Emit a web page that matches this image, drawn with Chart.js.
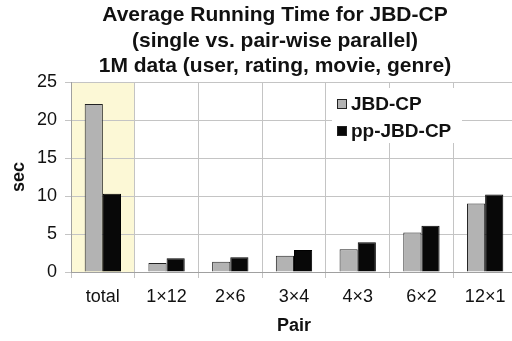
<!DOCTYPE html>
<html>
<head>
<meta charset="utf-8">
<script src="https://cdn.jsdelivr.net/npm/chart.js@4/dist/chart.umd.min.js"></script>
<style>
  html, body { margin: 0; padding: 0; background: #fff; overflow: hidden; }
  #wrap { position: relative; width: 520px; height: 341px; }
</style>
</head>
<body>
<div id="wrap"><canvas id="c"></canvas></div>
<script>
// --- datos ---
const pairs = ['total', '1×12', '2×6', '3×4', '4×3', '6×2', '12×1'];
const jbdCp = [22.1, 1.2, 1.35, 2.15, 3.0, 5.2, 9.0];
const ppJbdCp = [10.3, 1.8, 1.95, 2.9, 3.9, 6.1, 10.2];
const yTicks = [0, 5, 10, 15, 20, 25];
const titleLines = [
  'Average Running Time for JBD-CP',
  '(single vs. pair-wise parallel)',
  '1M data (user, rating, movie, genre)',
];

const FONT = '"Liberation Sans", Arial, Helvetica, sans-serif';

// fondo amarillo detrás de la categoría "total"
const highlight = {
  id: 'highlight',
  beforeDraw(chart) {
    const { ctx, chartArea: a, scales: { x } } = chart;
    const half = (x.getPixelForValue(1) - x.getPixelForValue(0)) / 2;
    const cx = x.getPixelForValue(0);
    ctx.save();
    ctx.fillStyle = '#fcf8d6';
    ctx.fillRect(cx - half, a.top, half * 2, a.bottom - a.top);
    ctx.restore();
  },
};

// título de tres líneas
const titlePlugin = {
  id: 'titleLines',
  afterDraw(chart) {
    const { ctx } = chart;
    ctx.save();
    ctx.fillStyle = '#111';
    ctx.font = `bold 21px ${FONT}`;
    ctx.textAlign = 'center';
    ctx.textBaseline = 'alphabetic';
    titleLines.forEach((t, i) => ctx.fillText(t, 275, 21 + i * 25.5));
    ctx.restore();
  },
};

// leyenda flotante dentro del área del gráfico
const floatLegend = {
  id: 'floatLegend',
  afterDatasetsDraw(chart) {
    const { ctx } = chart;
    ctx.save();
    ctx.fillStyle = '#fff';
    ctx.fillRect(332, 88, 130, 55);
    ctx.font = `bold 19px ${FONT}`;
    ctx.textBaseline = 'middle';
    ctx.textAlign = 'left';
    chart.data.datasets.forEach((ds, i) => {
      const y = 104 + i * 27;
      ctx.fillStyle = ds.backgroundColor;
      ctx.fillRect(337.5, y - 4.5, 9, 9);
      ctx.strokeStyle = '#222';
      ctx.lineWidth = 1;
      ctx.strokeRect(337.5, y - 4.5, 9, 9);
      ctx.fillStyle = '#111';
      ctx.fillText(ds.label, 351, y + 1);
    });
    ctx.restore();
  },
};

new Chart(document.getElementById('c'), {
  type: 'bar',
  data: {
    labels: pairs,
    datasets: [
      { label: 'JBD-CP', data: jbdCp, backgroundColor: '#b3b3b3', borderColor: '#222', borderWidth: 1 },
      { label: 'pp-JBD-CP', data: ppJbdCp, backgroundColor: '#080808', borderColor: '#000', borderWidth: 1 },
    ],
  },
  options: {
    responsive: true,
    maintainAspectRatio: false,
    animation: false,
    devicePixelRatio: 1,
    categoryPercentage: 0.57,
    barPercentage: 1,
    layout: { padding: { top: 82, right: 3, left: 8, bottom: 0 } },
    plugins: {
      legend: { display: false },
      title: { display: false },
      tooltip: { enabled: false },
    },
    scales: {
      x: {
        grid: { color: '#c4c4c4', offset: true, tickLength: 6, drawTicks: true },
        border: { color: '#a0a0a0' },
        ticks: { color: '#111', font: { family: FONT, size: 18 }, padding: 8, maxRotation: 0 },
        title: { display: true, text: 'Pair', color: '#111', font: { family: FONT, size: 18, weight: 'bold' }, padding: { top: 3 } },
        afterFit: (s) => { s.height = 69; },
      },
      y: {
        min: 0,
        max: 25,
        afterBuildTicks: (s) => { s.ticks = yTicks.map((v) => ({ value: v })); },
        grid: { color: '#c4c4c4', tickLength: 6 },
        border: { color: '#a0a0a0' },
        ticks: { color: '#111', font: { family: FONT, size: 18 }, padding: 8 },
        title: { display: true, text: 'sec', color: '#111', font: { family: FONT, size: 18, weight: 'bold' }, padding: 0 },
        afterFit: (s) => { s.width = 63; },
      },
    },
  },
  plugins: [highlight, floatLegend, titlePlugin],
});
</script>
</body>
</html>
